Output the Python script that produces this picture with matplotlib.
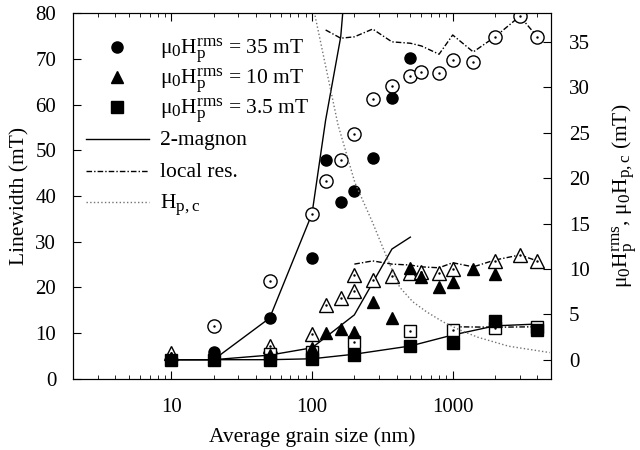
import numpy as np
import matplotlib
matplotlib.use('Agg')
from matplotlib import pyplot as plt
import matplotlib._mathtext as mt

plt.rcParams['font.family'] = 'Liberation Serif'
plt.rcParams['mathtext.fontset'] = 'custom'
plt.rcParams['mathtext.rm'] = 'Liberation Serif'
plt.rcParams['mathtext.it'] = 'Liberation Serif:italic'
plt.rcParams['mathtext.bf'] = 'Liberation Serif:bold'
# gnuplot-like bigger sub/superscripts
mt.SHRINK_FACTOR = 0.8

# 35 mT
d35_full = [10, 20, 50, 100, 125, 160, 200, 270, 370, 500]
w35_full = [4.2, 5.9, 13.3, 26.4, 47.9, 38.7, 41.1, 48.3, 61.4, 70.2]
d35_open = [20, 50, 100, 125, 160, 200, 270, 370, 500, 600, 800, 1000, 1400, 2000, 3000, 4000]
w35_open = [11.6, 21.4, 36.1, 43.3, 47.9, 53.5, 61.2, 64.0, 66.2, 67.1, 66.9, 69.8, 69.3, 74.8, 79.3, 74.8]
d35_mag = [10, 20, 50, 100, 125, 160, 200]
w35_mag = [4.2, 4.2, 13.3, 36.1, 56.6, 74.8, 110]
d35_loc = [125, 160, 200, 270, 370, 500, 600, 800, 1000, 1400, 2000, 3000, 4000]
w35_loc = [76.3, 74.5, 74.8, 76.5, 73.7, 73.4, 72.8, 71.0, 75.2, 71.5, 74.8, 79.3, 74.8]

# 10 mT
d10_full = [10, 20, 50, 100, 125, 160, 200, 270, 370, 500, 600, 800, 1000, 1400, 2000]
w10_full = [4.6, 5.0, 5.2, 6.8, 10.1, 10.9, 10.3, 16.8, 13.3, 24.3, 22.3, 20.1, 21.2, 24.0, 22.9]
d10_open = [10, 50, 100, 125, 160, 200, 200, 270, 370, 500, 600, 800, 1000, 2000, 3000, 4000]
w10_open = [5.6, 7.2, 9.8, 16.2, 17.7, 19.2, 22.7, 21.6, 22.4, 23.1, 23.4, 23.2, 24.1, 25.7, 27.1, 25.7]
d10_mag = [10, 20, 50, 100, 200, 370, 500]
w10_mag = [4.2, 4.2, 5.2, 6.8, 14.0, 28.4, 31.0]
d10_loc = [200, 270, 370, 500, 600, 800, 1000, 1400, 2000, 3000, 4000]
w10_loc = [25.1, 25.8, 25.1, 24.9, 24.5, 24.3, 25.4, 24.5, 26.0, 27.1, 25.8]

# 3.5 mT
d3_full = [10, 20, 50, 100, 200, 500, 1000, 2000, 4000]
w3_full = [4.2, 4.2, 4.2, 4.4, 5.2, 7.2, 7.8, 12.6, 10.8]
d3_open = [50, 100, 200, 500, 1000, 2000, 4000]
w3_open = [5.5, 5.8, 8.1, 10.4, 10.8, 11.1, 11.4]
d3_mag = [10, 20, 50, 100, 200, 500, 1000, 2000, 4000]
w3_mag = [4.2, 4.2, 4.2, 4.4, 5.4, 7.2, 9.6, 11.6, 12.0]
d3_loc = [1000, 2000, 4000]
w3_loc = [11.4, 11.3, 11.4]

# critical field (right axis)
d_hpc = [100, 153, 202, 270, 340, 420, 520, 650, 850, 1120, 1500, 2500, 4900]
h_hpc = [39.5, 25.9, 19.5, 15.1, 11.3, 8.0, 6.4, 5.3, 4.2, 3.3, 2.5, 1.5, 0.8]

legend_labels = [
    r'$\mathrm{μ_0H_p^{rms}}$ = 35 mT',
    r'$\mathrm{μ_0H_p^{rms}}$ = 10 mT',
    r'$\mathrm{μ_0H_p^{rms}}$ = 3.5 mT',
    '2-magnon',
    'local res.',
    r'$\mathrm{H_{p,c}}$',
]

fig = plt.figure(figsize=(6.4, 4.5), dpi=100)
ax = fig.add_axes([0.114, 0.158, 0.747, 0.813])
ax2 = ax.twinx()

dashdot = (0, (4, 1.5, 1, 1.5))
grey = '0.45'

# theory lines
ax.plot(d35_mag, w35_mag, 'k-', lw=1)
ax.plot(d10_mag, w10_mag, 'k-', lw=1)
ax.plot(d3_mag, w3_mag, 'k-', lw=1)
ax.plot(d35_loc, w35_loc, color='k', ls=dashdot, lw=1)
ax.plot(d10_loc, w10_loc, color='k', ls=dashdot, lw=1)
ax.plot(d3_loc, w3_loc, color='k', ls=dashdot, lw=1)
ax2.plot(d_hpc, h_hpc, color=grey, ls=':', lw=1)

# open symbols with center dot
for d, w, m, s in [(d35_open, w35_open, 'o', 9.5), (d10_open, w10_open, '^', 10),
                   (d3_open, w3_open, 's', 9)]:
    ax.plot(d, w, ls='none', marker=m, ms=s, mfc='white', mec='k', mew=1)
    ax.plot(d, w, ls='none', marker='.', ms=1.5, color='k')

# filled symbols
ax.plot(d35_full, w35_full, 'ko', ms=8)
ax.plot(d10_full, w10_full, 'k^', ms=8.5)
ax.plot(d3_full, w3_full, 'ks', ms=9)

ax.set_xscale('log')
ax.set_xlim(2, 5000)
ax.set_ylim(0, 80)
ax2.set_ylim(-2.1, 38.2)
ax.set_yticks(np.arange(0, 81, 10))
ax2.set_yticks(np.arange(0, 36, 5))
ax.set_xticks([10, 100, 1000])
ax.set_xticklabels(['10', '100', '1000'])

ax.tick_params(which='both', direction='in', top=True, labelsize=15)
ax.tick_params(which='major', length=6)
ax.tick_params(which='minor', length=3)
ax.tick_params(axis='x', pad=14)
ax.tick_params(axis='y', pad=12)
ax2.tick_params(direction='in', length=6, labelsize=15, pad=13)

ax.set_xlabel('Average grain size (nm)', fontsize=15.5, labelpad=7)
ax.set_ylabel('Linewidth (mT)', fontsize=15.5, labelpad=4)
ax2.set_ylabel(r'$\mathrm{μ_0H_p^{rms}}$, $\mathrm{μ_0H_{p,c}}$ (mT)', fontsize=15.5, labelpad=14)

# legend drawn by hand, gnuplot style
row_y = [0.907, 0.825, 0.743, 0.655, 0.568, 0.484]
kw = dict(transform=ax.transAxes, clip_on=False)
ax.plot([0.092], [row_y[0]], 'ko', ms=8, **kw)
ax.plot([0.092], [row_y[1]], 'k^', ms=8.5, **kw)
ax.plot([0.092], [row_y[2]], 'ks', ms=9, **kw)
ax.plot([0.027, 0.159], [row_y[3]] * 2, 'k-', lw=1, **kw)
ax.plot([0.027, 0.159], [row_y[4]] * 2, color='k', ls=dashdot, lw=1, **kw)
ax.plot([0.027, 0.159], [row_y[5]] * 2, color=grey, ls=':', lw=1, **kw)
for yy, lab in zip(row_y, legend_labels):
    ax.text(0.182, yy - 0.016, lab, transform=ax.transAxes, fontsize=15.5, va='baseline')

fig.savefig('out.png', dpi=100)
